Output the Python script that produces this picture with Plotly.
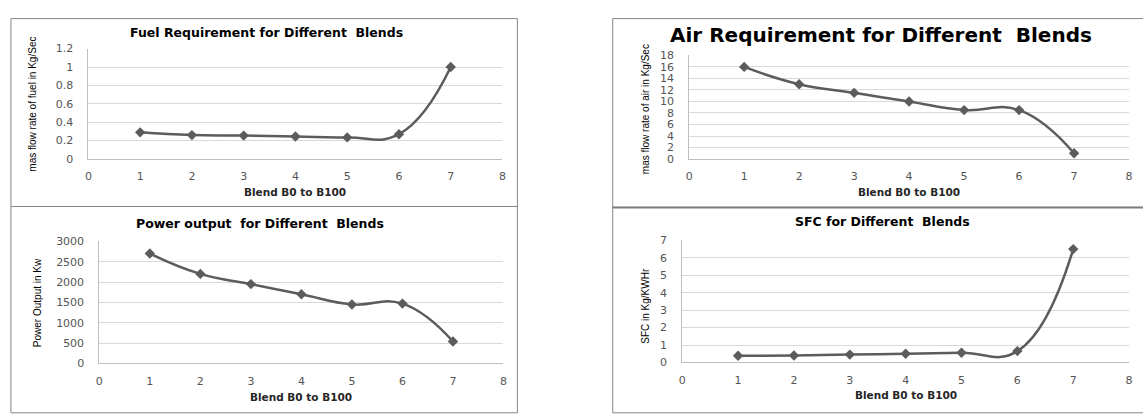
import plotly.graph_objects as go

blends = [1, 2, 3, 4, 5, 6, 7]
fuel_kg_s = [0.29, 0.26, 0.255, 0.245, 0.235, 0.27, 1.0]
air_kg_s = [16, 13, 11.5, 10, 8.5, 8.5, 1]
power_kw = [2700, 2200, 1950, 1700, 1450, 1470, 540]
sfc_kg_kwhr = [0.38, 0.4, 0.45, 0.5, 0.56, 0.65, 6.5]

titles = ["Fuel Requirement for Different  Blends",
          "Air Requirement for Different  Blends",
          "Power output  for Different  Blends",
          "SFC for Different  Blends"]
ytitles = ["mas flow rate of fuel in Kg/Sec",
           "mas flow rate of air in Kg/Sec",
           "Power Output in Kw",
           "SFC in Kg/KWHr"]
xtitle = "Blend B0 to B100"

W, H = 1143, 414
def px(x):
    return x / W
def py(y):
    return 1 - y / H

# panel geometry in pixels: plot area (x0, x1, ytop, ybottom)
plots = [(85, 502, 44, 158), (690, 1133, 51, 158), (96, 503, 243, 369), (683, 1133, 242, 368)]
yranges = [(0, 1.2, 0.2), (0, 18, 2), (0, 3000, 500), (0, 7, 1)]
series = [fuel_kg_s, air_kg_s, power_kw, sfc_kg_kwhr]
title_pos = [(264, 27, 12.5), (883, 30, 20), (258, 225, 12.5), (885, 223, 12.5)]
ytitle_pos = [(29, 101), (646, 106), (34, 306), (646, 309)]
xtitle_y = [192, 192, 404, 402]

LINE = "#5c5c5c"
TICKFONT = dict(family="DejaVu Sans", size=11, color="#555555")
fig = go.Figure()
annotations = []
for i in range(4):
    x0, x1, yt, yb = plots[i]
    ax = "" if i == 0 else str(i + 1)
    fig.add_trace(go.Scatter(
        x=blends, y=series[i], mode="lines+markers",
        line=dict(color=LINE, width=2.5, shape="spline", smoothing=1.3),
        marker=dict(symbol="diamond", size=8, color=LINE),
        xaxis="x" + ax, yaxis="y" + ax, showlegend=False))
    lo, hi, dt = yranges[i]
    fig.layout["xaxis" + ax] = dict(
        domain=[px(x0), px(x1)], range=[0, 8], dtick=1, tick0=0,
        showgrid=False, zeroline=False, showline=True, linecolor="#bfbfbf", linewidth=1,
        anchor="y" + ax, ticklabelstandoff=7, tickfont=TICKFONT, fixedrange=True)
    fig.layout["yaxis" + ax] = dict(
        domain=[py(yb), py(yt)], range=[lo, hi], dtick=dt, tick0=0,
        showgrid=True, gridcolor="#d9d9d9", gridwidth=1, zeroline=False,
        showline=True, linecolor="#bfbfbf", linewidth=1,
        anchor="x" + ax, ticklabelstandoff=12, tickfont=TICKFONT, fixedrange=True)
    if i >= 1:
        fig.layout["yaxis" + ax]["tickformat"] = "d"
    tx, ty, ts = title_pos[i]
    annotations.append(dict(text="<b>" + titles[i] + "</b>", x=px(tx), y=py(ty), xref="paper", yref="paper",
                            showarrow=False, xanchor="center", yanchor="middle",
                            font=dict(family="DejaVu Sans", size=ts, color="#000000")))
    yx, yy = ytitle_pos[i]
    annotations.append(dict(text=ytitles[i], x=px(yx), y=py(yy), xref="paper", yref="paper",
                            showarrow=False, xanchor="center", yanchor="middle", textangle=-90,
                            font=dict(family="Liberation Sans Narrow, Liberation Sans", size=10, color="#000000")))
    annotations.append(dict(text="<b>" + xtitle + "</b>", x=px((x0 + x1) / 2), y=py(xtitle_y[i]),
                            xref="paper", yref="paper", showarrow=False, xanchor="center", yanchor="middle",
                            font=dict(family="DejaVu Sans", size=10.5, color="#262626")))

shapes = []
boxes = [(7, 13, 517, 207), (613, 13, 1160, 208), (7, 207, 517, 420), (613, 208, 1160, 420)]
for (bx0, by0, bx1, by1) in boxes:
    shapes.append(dict(type="rect", xref="paper", yref="paper", x0=px(bx0), x1=px(bx1),
                       y0=py(by1), y1=py(by0), line=dict(color="#868686", width=1), layer="below"))
shapes.append(dict(type="line", xref="paper", yref="paper", x0=px(613), x1=px(1160),
                   y0=py(208), y1=py(208), line=dict(color="#7a7a7a", width=2)))

fig.update_layout(width=W, height=H, margin=dict(l=0, r=0, t=0, b=0),
                  paper_bgcolor="white", plot_bgcolor="white",
                  annotations=annotations, shapes=shapes)
fig.write_html("out.html")
